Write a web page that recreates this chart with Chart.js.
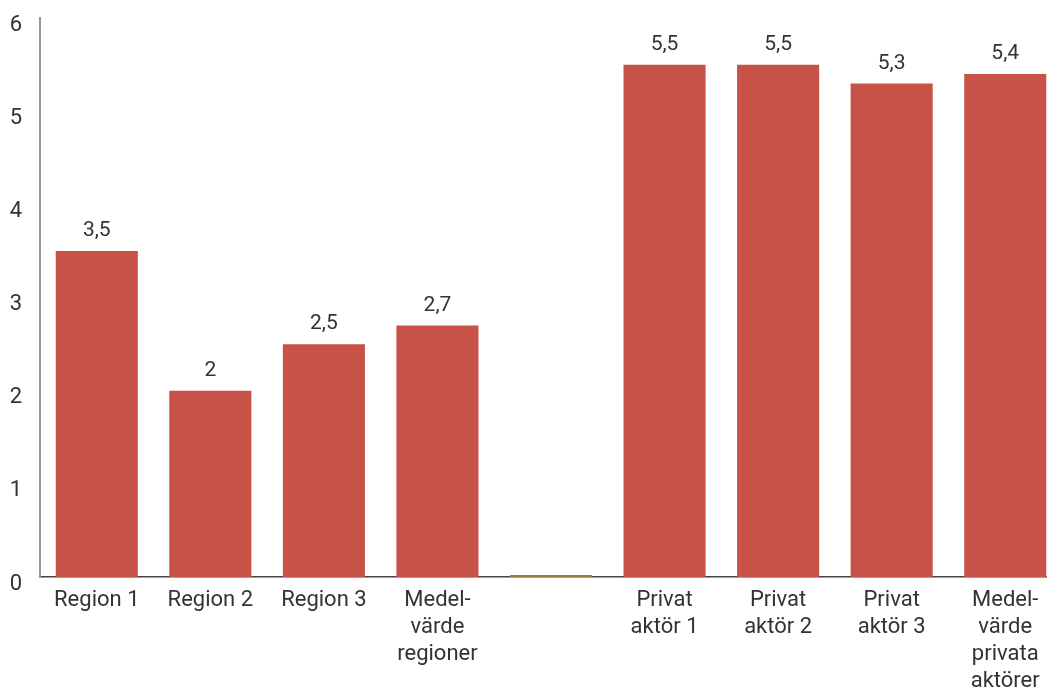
<!DOCTYPE html>
<html>
<head>
<meta charset="utf-8">
<script src="https://cdn.jsdelivr.net/npm/chart.js@4/dist/chart.umd.min.js"></script>
<style>
  html, body { margin: 0; padding: 0; background: #fff; overflow: hidden; }
  #wrap { position: relative; top: -13px; width: 1062px; height: 733px; }
</style>
</head>
<body>
<div id="wrap"><canvas id="c"></canvas></div>
<script>
// Categories: regions, a blank separator, then private actors
const categories = [
  'Region 1', 'Region 2', 'Region 3', ['Medel-', 'värde', 'regioner'],
  '',
  ['Privat', 'aktör 1'], ['Privat', 'aktör 2'], ['Privat', 'aktör 3'],
  ['Medel-', 'värde', 'privata', 'aktörer']
];
const values = [3.5, 2, 2.5, 2.7, 0, 5.5, 5.5, 5.3, 5.4];
const yTicks = [0, 1, 2, 3, 4, 5, 6];

const BAR = '#C75348';
const SEP = '#9C7A3C';
const TEXT = '#333333';
const FONT = 'Roboto, "DejaVu Sans", sans-serif';

// Value labels above bars, with decimal comma
const valueLabels = {
  id: 'valueLabels',
  afterDatasetsDraw(chart) {
    const ctx = chart.ctx;
    const meta = chart.getDatasetMeta(0);
    ctx.save();
    ctx.font = '21px ' + FONT;
    ctx.fillStyle = TEXT;
    ctx.textAlign = 'center';
    ctx.textBaseline = 'middle';
    meta.data.forEach((bar, i) => {
      const v = values[i];
      if (!v) return;
      ctx.fillText(String(v).replace('.', ','), bar.x, bar.y - 20);
    });
    ctx.restore();
  }
};

new Chart(document.getElementById('c'), {
  type: 'bar',
  data: {
    labels: categories,
    datasets: [{
      data: values,
      backgroundColor: values.map(v => v === 0 ? SEP : BAR),
      borderWidth: 0,
      minBarLength: 2,
      categoryPercentage: 1,
      barPercentage: 0.723
    }]
  },
  options: {
    responsive: true,
    maintainAspectRatio: false,
    animation: false,
    layout: { padding: { top: 4, right: 0, left: 0, bottom: 0 } },
    plugins: { legend: { display: false }, tooltip: { enabled: false } },
    scales: {
      x: {
        grid: { display: false, drawTicks: false },
        border: { display: true, color: '#444', width: 1.5 },
        ticks: {
          color: TEXT,
          font: { family: FONT, size: 22, lineHeight: 1.23 },
          padding: 10,
          maxRotation: 0,
          autoSkip: false
        },
        afterFit(scale) { scale.height = 143; }
      },
      y: {
        min: 0,
        max: 6,
        afterBuildTicks(scale) { scale.ticks = yTicks.map(v => ({ value: v })); },
        grid: { display: false, drawTicks: false },
        border: { display: true, color: '#999', width: 2 },
        ticks: {
          color: TEXT,
          font: { family: FONT, size: 22 },
          padding: 18,
          labelOffset: 7
        },
        afterFit(scale) { scale.width = 40; }
      }
    }
  },
  plugins: [valueLabels]
});
</script>
</body>
</html>
